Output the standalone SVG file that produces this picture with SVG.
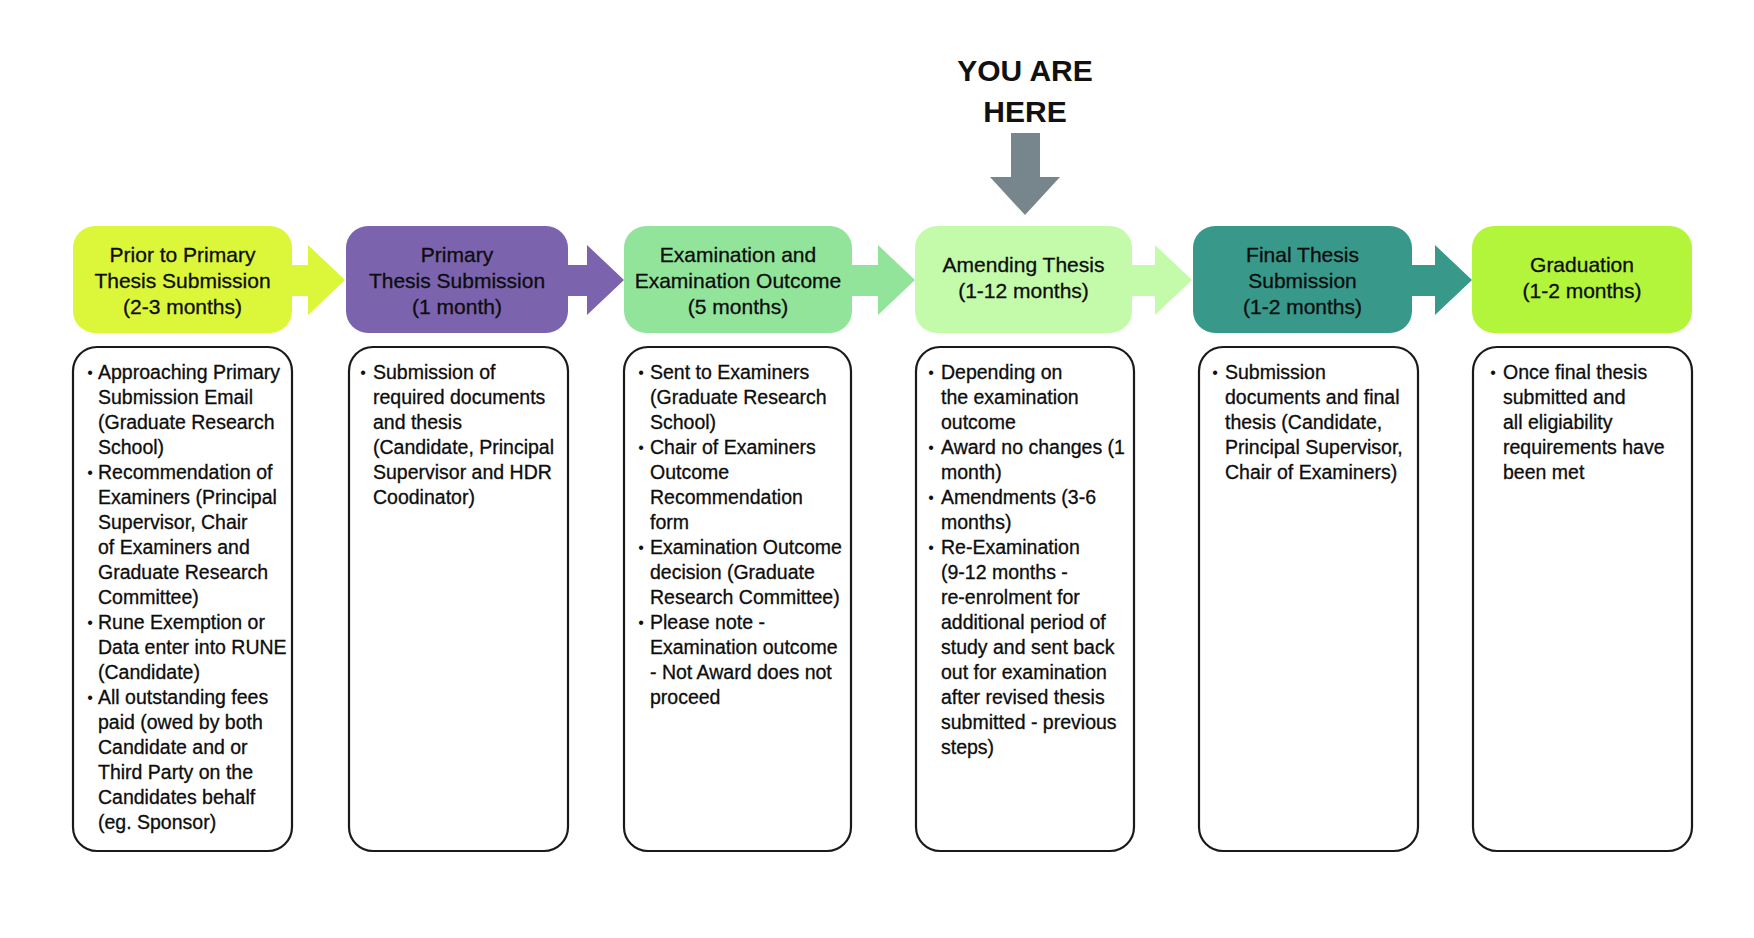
<svg xmlns="http://www.w3.org/2000/svg" width="1754" height="938" viewBox="0 0 1754 938">
<style>
.bg{fill:#ffffff}
.hd{font-family:"Liberation Sans",Arial,sans-serif;font-size:21px;fill:#0d0d0d;stroke:#0d0d0d;stroke-width:0.3;text-anchor:middle}
.bd{font-family:"Liberation Sans",Arial,sans-serif;font-size:19.5px;fill:#0d0d0d;stroke:#0d0d0d;stroke-width:0.3}
.bl{font-family:"Liberation Sans",Arial,sans-serif;font-size:16px;fill:#111;text-anchor:middle}
.det{fill:#fff;stroke:#1a1a1a;stroke-width:2.2}
.here{font-family:"Liberation Sans",Arial,sans-serif;font-size:30px;font-weight:bold;fill:#111;text-anchor:middle}
</style>
<rect class="bg" x="0" y="0" width="1754" height="938"/>

<g id="connectors">
  <path d="M285 265 H308 V245 L345 280 L308 315 V296 H285 Z" fill="#dcf73a"/>
  <path d="M560 265 H587 V245 L624 280 L587 315 V296 H560 Z" fill="#7b63ae"/>
  <path d="M845 265 H878 V245 L915 280 L878 315 V296 H845 Z" fill="#92e49b"/>
  <path d="M1125 265 H1155 V245 L1192 280 L1155 315 V296 H1125 Z" fill="#c4fbaa"/>
  <path d="M1405 265 H1435 V245 L1472 280 L1435 315 V296 H1405 Z" fill="#38988a"/>
</g>

<g id="you-are-here">
  <text class="here" x="1025" y="81">YOU ARE</text>
  <text class="here" x="1025" y="122">HERE</text>
  <path d="M1011 133 H1040 V177 H1060 L1025 215 L990 177 H1011 Z" fill="#76868c"/>
</g>

<g id="stage1">
  <rect x="73" y="226" width="219" height="107" rx="22" fill="#dcf73a"/>
  <text class="hd" x="182.5" y="262">Prior to Primary</text>
  <text class="hd" x="182.5" y="288">Thesis Submission</text>
  <text class="hd" x="182.5" y="314">(2-3 months)</text>
  <rect class="det" x="73" y="347" width="219" height="504" rx="24"/>
  <g class="bl"><text x="90" y="378">•</text><text x="90" y="478">•</text><text x="90" y="628">•</text><text x="90" y="703">•</text></g>
  <text class="bd">
    <tspan x="98" y="379">Approaching Primary</tspan>
    <tspan x="98" y="404">Submission Email</tspan>
    <tspan x="98" y="429">(Graduate Research</tspan>
    <tspan x="98" y="454">School)</tspan>
    <tspan x="98" y="479">Recommendation of</tspan>
    <tspan x="98" y="504">Examiners (Principal</tspan>
    <tspan x="98" y="529">Supervisor, Chair</tspan>
    <tspan x="98" y="554">of Examiners and</tspan>
    <tspan x="98" y="579">Graduate Research</tspan>
    <tspan x="98" y="604">Committee)</tspan>
    <tspan x="98" y="629">Rune Exemption or</tspan>
    <tspan x="98" y="654">Data enter into RUNE</tspan>
    <tspan x="98" y="679">(Candidate)</tspan>
    <tspan x="98" y="704">All outstanding fees</tspan>
    <tspan x="98" y="729">paid (owed by both</tspan>
    <tspan x="98" y="754">Candidate and or</tspan>
    <tspan x="98" y="779">Third Party on the</tspan>
    <tspan x="98" y="804">Candidates behalf</tspan>
    <tspan x="98" y="829">(eg. Sponsor)</tspan>
  </text>
</g>

<g id="stage2">
  <rect x="346" y="226" width="222" height="107" rx="22" fill="#7b63ae"/>
  <text class="hd" x="457" y="262">Primary</text>
  <text class="hd" x="457" y="288">Thesis Submission</text>
  <text class="hd" x="457" y="314">(1 month)</text>
  <rect class="det" x="349" y="347" width="219" height="504" rx="24"/>
  <g class="bl"><text x="363" y="378">•</text></g>
  <text class="bd">
    <tspan x="373" y="379">Submission of</tspan>
    <tspan x="373" y="404">required documents</tspan>
    <tspan x="373" y="429">and thesis</tspan>
    <tspan x="373" y="454">(Candidate, Principal</tspan>
    <tspan x="373" y="479">Supervisor and HDR</tspan>
    <tspan x="373" y="504">Coodinator)</tspan>
  </text>
</g>

<g id="stage3">
  <rect x="624" y="226" width="228" height="107" rx="22" fill="#92e49b"/>
  <text class="hd" x="738" y="262">Examination and</text>
  <text class="hd" x="738" y="288">Examination Outcome</text>
  <text class="hd" x="738" y="314">(5 months)</text>
  <rect class="det" x="624" y="347" width="227" height="504" rx="24"/>
  <g class="bl"><text x="641" y="378">•</text><text x="641" y="453">•</text><text x="641" y="553">•</text><text x="641" y="628">•</text></g>
  <text class="bd">
    <tspan x="650" y="379">Sent to Examiners</tspan>
    <tspan x="650" y="404">(Graduate Research</tspan>
    <tspan x="650" y="429">School)</tspan>
    <tspan x="650" y="454">Chair of Examiners</tspan>
    <tspan x="650" y="479">Outcome</tspan>
    <tspan x="650" y="504">Recommendation</tspan>
    <tspan x="650" y="529">form</tspan>
    <tspan x="650" y="554">Examination Outcome</tspan>
    <tspan x="650" y="579">decision (Graduate</tspan>
    <tspan x="650" y="604">Research Committee)</tspan>
    <tspan x="650" y="629">Please note -</tspan>
    <tspan x="650" y="654">Examination outcome</tspan>
    <tspan x="650" y="679">- Not Award does not</tspan>
    <tspan x="650" y="704">proceed</tspan>
  </text>
</g>

<g id="stage4">
  <rect x="915" y="226" width="217" height="107" rx="22" fill="#c4fbaa"/>
  <text class="hd" x="1023.5" y="272">Amending Thesis</text>
  <text class="hd" x="1023.5" y="298">(1-12 months)</text>
  <rect class="det" x="916" y="347" width="218" height="504" rx="24"/>
  <g class="bl"><text x="931" y="378">•</text><text x="931" y="453">•</text><text x="931" y="503">•</text><text x="931" y="553">•</text></g>
  <text class="bd">
    <tspan x="941" y="379">Depending on</tspan>
    <tspan x="941" y="404">the examination</tspan>
    <tspan x="941" y="429">outcome</tspan>
    <tspan x="941" y="454">Award no changes (1</tspan>
    <tspan x="941" y="479">month)</tspan>
    <tspan x="941" y="504">Amendments (3-6</tspan>
    <tspan x="941" y="529">months)</tspan>
    <tspan x="941" y="554">Re-Examination</tspan>
    <tspan x="941" y="579">(9-12 months -</tspan>
    <tspan x="941" y="604">re-enrolment for</tspan>
    <tspan x="941" y="629">additional period of</tspan>
    <tspan x="941" y="654">study and sent back</tspan>
    <tspan x="941" y="679">out for examination</tspan>
    <tspan x="941" y="704">after revised thesis</tspan>
    <tspan x="941" y="729">submitted - previous</tspan>
    <tspan x="941" y="754">steps)</tspan>
  </text>
</g>

<g id="stage5">
  <rect x="1193" y="226" width="219" height="107" rx="22" fill="#38988a"/>
  <text class="hd" x="1302.5" y="262">Final Thesis</text>
  <text class="hd" x="1302.5" y="288">Submission</text>
  <text class="hd" x="1302.5" y="314">(1-2 months)</text>
  <rect class="det" x="1199" y="347" width="219" height="504" rx="24"/>
  <g class="bl"><text x="1215" y="378">•</text></g>
  <text class="bd">
    <tspan x="1225" y="379">Submission</tspan>
    <tspan x="1225" y="404">documents and final</tspan>
    <tspan x="1225" y="429">thesis (Candidate,</tspan>
    <tspan x="1225" y="454">Principal Supervisor,</tspan>
    <tspan x="1225" y="479">Chair of Examiners)</tspan>
  </text>
</g>

<g id="stage6">
  <rect x="1472" y="226" width="220" height="107" rx="22" fill="#b2f53a"/>
  <text class="hd" x="1582" y="272">Graduation</text>
  <text class="hd" x="1582" y="298">(1-2 months)</text>
  <rect class="det" x="1473" y="347" width="219" height="504" rx="24"/>
  <g class="bl"><text x="1493" y="378">•</text></g>
  <text class="bd">
    <tspan x="1503" y="379">Once final thesis</tspan>
    <tspan x="1503" y="404">submitted and</tspan>
    <tspan x="1503" y="429">all eligiability</tspan>
    <tspan x="1503" y="454">requirements have</tspan>
    <tspan x="1503" y="479">been met</tspan>
  </text>
</g>
</svg>
